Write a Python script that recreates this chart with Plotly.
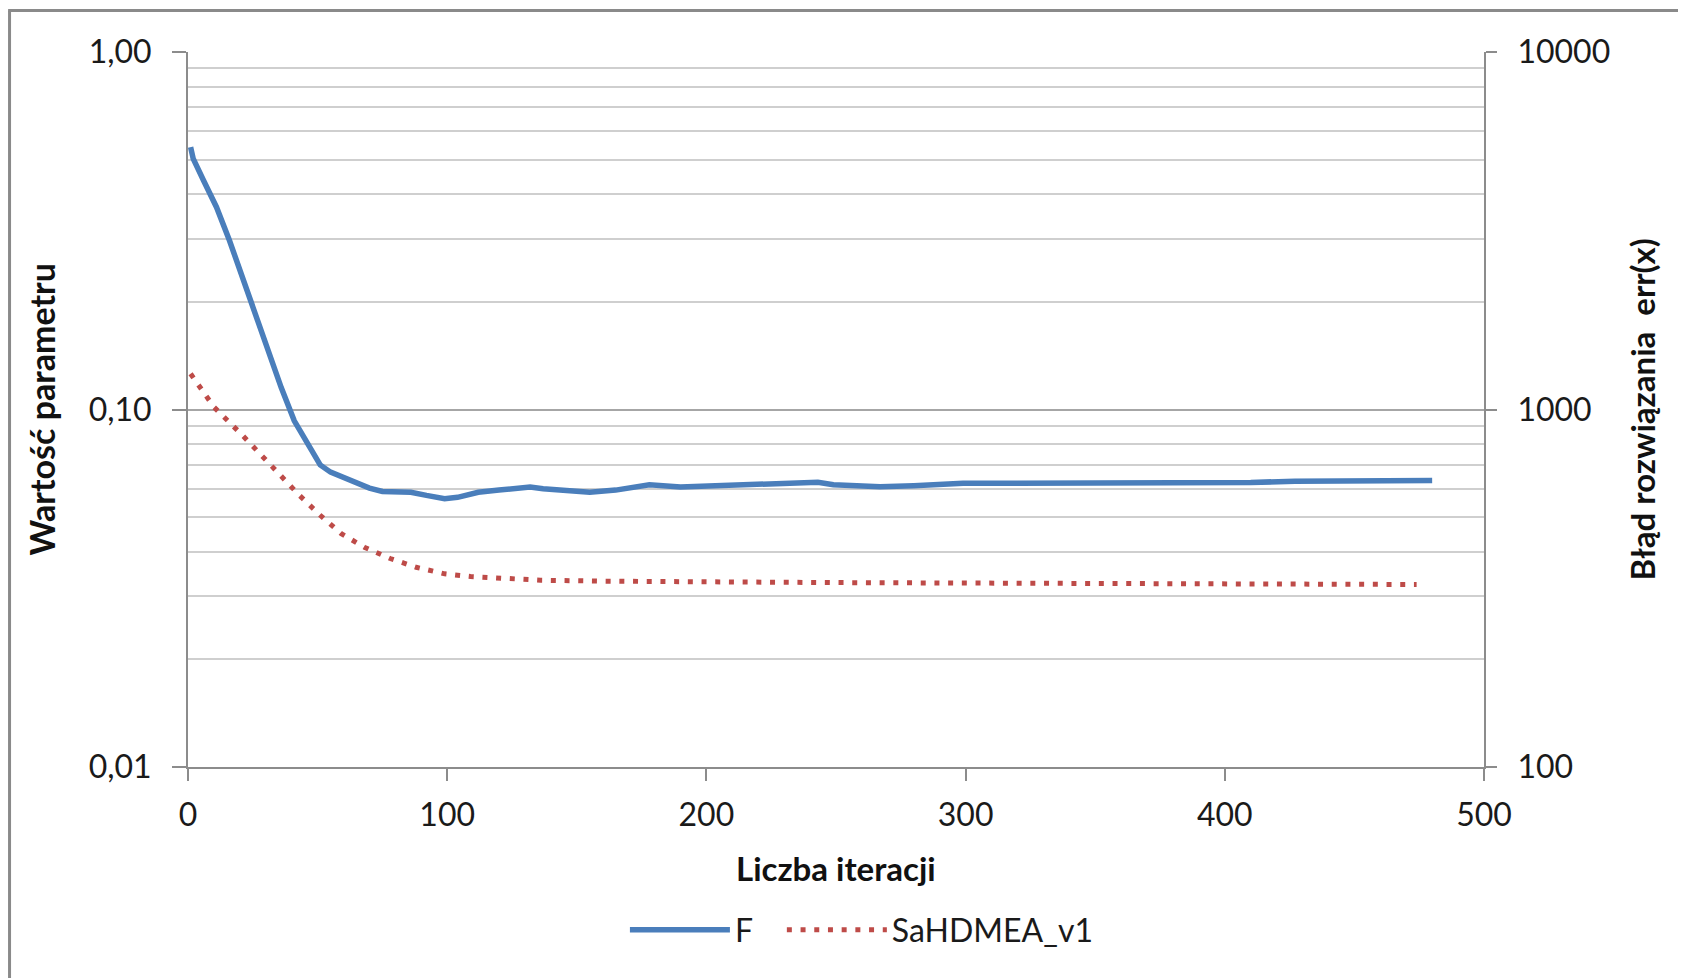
import plotly.graph_objects as go

# ---- data ----
f_iter = [1, 2, 6, 11, 16, 20, 24, 28, 32, 36, 41, 46, 51, 55, 60, 65, 70, 75, 80, 86,
          92, 99, 104, 108, 112, 120, 127, 132, 137, 145, 155, 165, 178, 190, 200, 212,
          225, 243, 249, 260, 267, 280, 299, 320, 337, 362, 388, 410, 427, 450, 465, 480]
f_vals = [0.542, 0.503, 0.437, 0.368, 0.297, 0.245, 0.206, 0.170, 0.140, 0.115, 0.093,
          0.080, 0.070, 0.0668, 0.0645, 0.0625, 0.0603, 0.0590, 0.0587, 0.0587, 0.0575,
          0.0563, 0.0568, 0.0575, 0.0587, 0.0595, 0.0600, 0.0607, 0.0600, 0.0595, 0.0587,
          0.0595, 0.0616, 0.0607, 0.0610, 0.0616, 0.0618, 0.0626, 0.0616, 0.0612, 0.0608,
          0.0612, 0.0622, 0.0622, 0.0622, 0.0622, 0.0622, 0.0625, 0.0630, 0.0630, 0.0632,
          0.0633]

err_iter = [1, 10, 21, 32, 43, 51, 59, 68, 78, 88, 99, 109, 120, 136, 160, 200, 250,
            301, 350, 400, 474]
err_vals = [1259, 1016, 847, 698, 575, 506, 450, 412, 383, 362, 347, 341, 338, 333,
            331, 329, 328, 327, 326, 325, 324]

left_ticks = [0.01, 0.1, 1.0]
left_labels = ["0,01", "0,10", "1,00"]
right_ticks = [100, 1000, 10000]
right_labels = ["100", "1000", "10000"]
x_ticks = [0, 100, 200, 300, 400, 500]

FONT = "Lato, Carlito, Calibri, sans-serif"
AX = "#8c8c8c"

fig = go.Figure()
fig.add_trace(go.Scatter(x=f_iter, y=f_vals, name="F\u00a0\u00a0\u00a0", mode="lines",
                         line=dict(color="#4A7EBB", width=5.5)))
fig.add_trace(go.Scatter(x=err_iter, y=err_vals, name="SaHDMEA_v1", mode="lines",
                         yaxis="y2", line=dict(color="#BE4B48", width=5, dash="5px,8.7px")))

fig.update_layout(
    width=1678, height=970,
    margin=dict(l=180, r=202, t=44, b=211),
    paper_bgcolor="white", plot_bgcolor="white",
    font=dict(family=FONT, size=32, color="#1a1a1a"),
    showlegend=True,
    legend=dict(orientation="h", x=0.52, xanchor="center", y=-0.228, yanchor="middle",
                font=dict(size=32), itemwidth=100, traceorder="normal"),
    xaxis=dict(range=[0, 500], tickvals=x_ticks, showgrid=False, zeroline=False,
               showline=True, linecolor=AX, linewidth=2, ticks="outside", ticklen=12,
               tickcolor=AX, tickwidth=2, tickfont=dict(size=32), ticklabelstandoff=7),
    yaxis=dict(type="log", range=[-2, 0], tickvals=left_ticks, ticktext=left_labels,
               showgrid=True, gridcolor="#a6a6a6", gridwidth=2, zeroline=False,
               showline=True, linecolor=AX, linewidth=2, ticks="outside", ticklen=14,
               tickcolor=AX, tickwidth=2, tickfont=dict(size=32), ticklabelstandoff=14,
               minor=dict(dtick="D1", showgrid=True, gridcolor="#cfcfcf", gridwidth=2,
                          ticks="")),
    yaxis2=dict(type="log", range=[2, 4], overlaying="y", side="right",
                tickvals=right_ticks, ticktext=right_labels, showgrid=False,
                zeroline=False, showline=True, linecolor=AX, linewidth=2,
                ticks="outside", ticklen=11, tickcolor=AX, tickwidth=2,
                tickfont=dict(size=32), ticklabelstandoff=14),
    annotations=[
        dict(text="<b>Wartość parametru</b>", xref="paper", yref="paper", x=-0.1134,
             y=0.5, textangle=-90, showarrow=False, xanchor="center", yanchor="middle",
             font=dict(size=34, color="#111")),
        dict(text="<b>Błąd rozwiązania  err(x)</b>", xref="paper", yref="paper",
             x=1.1219, y=0.5, textangle=-90, showarrow=False, xanchor="center",
             yanchor="middle", font=dict(size=33, color="#111")),
        dict(text="<b>Liczba iteracji</b>", xref="paper", yref="paper", x=0.5,
             y=-0.1413, showarrow=False, xanchor="center", yanchor="middle",
             font=dict(size=33, color="#111")),
    ],
    shapes=[
        dict(type="line", xref="paper", yref="paper", x0=-0.1377, x1=-0.1377,
             y0=1.058, y1=-0.35, line=dict(color="#8a8a8a", width=3)),
        dict(type="line", xref="paper", yref="paper", x0=-0.1388, x1=1.2,
             y0=1.058, y1=1.058, line=dict(color="#8a8a8a", width=3)),
    ],
)

fig.write_html("out.html")
